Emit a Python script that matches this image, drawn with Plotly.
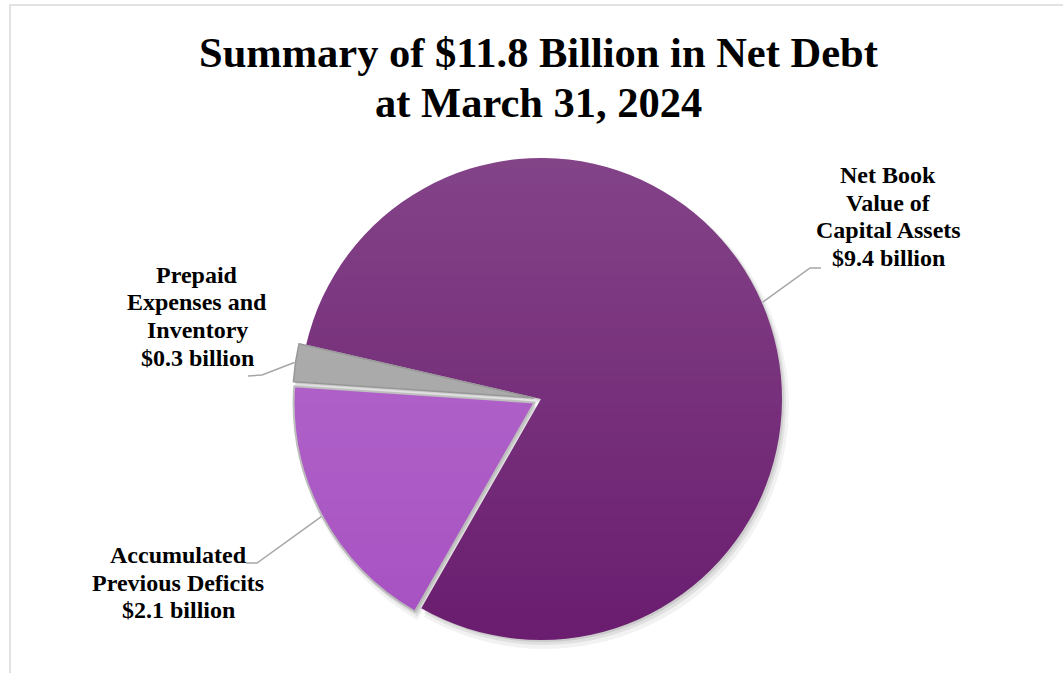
import math
import struct
import zlib
import base64

import plotly.graph_objects as go

# --- data -------------------------------------------------------------------
labels = [
    "Net Book<br>Value of<br>Capital Assets",
    "Accumulated<br>Previous Deficits",
    "Prepaid<br>Expenses and<br>Inventory",
]
values = [9.4, 2.1, 0.3]          # $ billion
colors = ["#6b1e70", "#a852c3", "#a2a2a2"]
edge_colors = ["rgba(0,0,0,0)", "#b9b9b9", "#8e8e8e"]
pulls = [0.0, 0.03, 0.03]
title_lines = ["Summary of $11.8 Billion in Net Debt", "at March 31, 2024"]

# --- geometry ---------------------------------------------------------------
W, H = 1063, 673
CX, CY, R = 541, 399, 241          # pie centre / radius in pixels
ROTATION = 283

def fx(x):
    return x / W

def fy(y):
    return 1 - y / H

box = R * (1 + max(pulls))         # plotly shrinks the radius to fit the pull


def domain(dx=0.0, dy=0.0, grow=0.0):
    b = box + grow
    return dict(x=[fx(CX + dx - b), fx(CX + dx + b)],
                y=[fy(CY + dy + b), fy(CY + dy - b)])


def png_gradient(alphas):
    """1-pixel-wide white PNG whose alpha runs through `alphas` top to bottom."""
    raw = b"".join(b"\x00" + bytes([255, 255, 255, int(a * 255)]) for a in alphas)

    def chunk(tag, data):
        c = struct.pack(">I", len(data)) + tag + data
        return c + struct.pack(">I", zlib.crc32(tag + data) & 0xFFFFFFFF)

    png = b"\x89PNG\r\n\x1a\n"
    png += chunk(b"IHDR", struct.pack(">IIBBBBB", 1, len(alphas), 8, 6, 0, 0, 0))
    png += chunk(b"IDAT", zlib.compress(raw))
    png += chunk(b"IEND", b"")
    return "data:image/png;base64," + base64.b64encode(png).decode()


def text_block(lines, cx, first_cy, step, size):
    """Centred multi-line text with a tight line pitch, one annotation per line."""
    for i, line in enumerate(lines):
        fig.add_annotation(
            x=fx(cx), y=fy(first_cy + i * step), xref="paper", yref="paper",
            xanchor="center", yanchor="middle", text=line, showarrow=False,
            font=dict(family="Liberation Serif", size=size, color="black",
                      weight="bold"),
        )


fig = go.Figure()

# soft drop shadow under the pie
for dx, dy, grow, alpha in [(4, 6, 3, 0.05), (3, 4, 1, 0.07), (2, 2, 0, 0.09)]:
    fig.add_trace(go.Pie(
        values=values, labels=labels, sort=False, direction="clockwise",
        rotation=ROTATION, pull=pulls, textinfo="none", hoverinfo="skip",
        marker=dict(colors=[f"rgba(0,0,0,{alpha})"] * len(values),
                    line=dict(width=0)),
        domain=domain(dx, dy, grow), showlegend=False,
    ))

fig.add_trace(go.Pie(
    values=values, labels=labels, sort=False, direction="clockwise",
    rotation=ROTATION, pull=pulls, textinfo="none",
    hovertemplate="%{label}<br>$%{value} billion<extra></extra>",
    marker=dict(colors=colors, line=dict(color=edge_colors, width=[0, 2, 1.5])),
    domain=domain(), showlegend=False,
))

# vertical light-to-dark sheen over the pie
n = 64
fig.add_layout_image(dict(
    source=png_gradient([0.17 * (1 - i / (n - 1)) for i in range(n)]),
    xref="paper", yref="paper", x=fx(CX - R - 12), y=fy(CY - R),
    sizex=(2 * R + 24) / W, sizey=2 * R / H, sizing="stretch",
    xanchor="left", yanchor="top", layer="above",
))

# labels with leader lines attached to slice mid-angles
total = sum(values)
label_layout = [
    # (text centre x, first line centre y, elbow, line end at text)
    (888, 175, (810, 268), (821, 268)),
    (178, 555, (257, 563), (246, 563)),
    (197, 275, (262, 375), (248, 376)),
]
start = ROTATION
for lab, val, pull, (tx, ty, elbow, tend) in zip(labels, values, pulls, label_layout):
    span = 360 * val / total
    mid = math.radians(start + span / 2)
    start += span
    rr = R * (1 + pull) + 1
    ex, ey = CX + rr * math.sin(mid), CY - rr * math.cos(mid)
    fig.add_shape(type="path", xref="paper", yref="paper",
                  path=f"M {fx(ex)} {fy(ey)} L {fx(elbow[0])} {fy(elbow[1])} "
                       f"L {fx(tend[0])} {fy(tend[1])}",
                  line=dict(color="#a6a6a6", width=1.5))
    text_block(lab.split("<br>") + [f"${val} billion"], tx, ty, 27.5, 24)

# title
text_block(title_lines, 538, 53, 49, 42.5)

# chart-area frame
fig.add_shape(type="rect", xref="paper", yref="paper",
              x0=fx(10), y0=fy(H + 5), x1=fx(W + 5), y1=fy(5),
              line=dict(color="#d9d9d9", width=1.5))

fig.update_layout(
    width=W, height=H, margin=dict(l=0, r=0, t=0, b=0),
    paper_bgcolor="white", plot_bgcolor="white",
)

fig.write_html("out.html")
